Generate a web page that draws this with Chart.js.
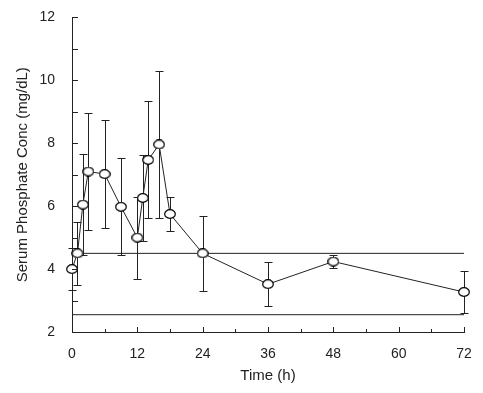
<!DOCTYPE html>
<html>
<head>
<meta charset="utf-8">
<script src="https://cdn.jsdelivr.net/npm/chart.js@4"></script>
<style>
  html, body { margin: 0; padding: 0; background: #fff; }
  #wrap { width: 483px; height: 393px; }
</style>
</head>
<body>
<div id="wrap"><canvas id="phosChart" width="483" height="393"></canvas></div>
<script>
// Serum phosphate over time, mean +/- SD
const times = [0, 1, 2, 3, 6, 9, 12, 13, 14, 16, 18, 24, 36, 48, 72];
const means = [4.0, 4.5, 6.05, 7.1, 7.02, 5.98, 5.0, 6.26, 7.47, 7.96, 5.75, 4.5, 3.52, 4.24, 3.27];
const errs  = [0.68, 1.0, 1.6, 1.85, 1.73, 1.54, 1.3, 1.37, 1.86, 2.35, 0.55, 1.2, 0.69, 0.21, 0.68];
// normal range limits drawn as horizontal lines
const refLevels = [4.5, 2.55];
const xTicks = [0, 12, 24, 36, 48, 60, 72];
const yTicks = [2, 4, 6, 8, 10, 12];

const ink = '#222';
const fontFamily = '"Liberation Sans", Arial, sans-serif';

const points = times.map((t, i) => ({ x: t, y: means[i] }));

// open ellipse marker (a bit wider than tall, like the original)
function makeMarker() {
  const c = document.createElement('canvas');
  c.width = 12; c.height = 10;
  const g = c.getContext('2d');
  g.fillStyle = '#fff';
  g.strokeStyle = '#000';
  g.lineWidth = 1.2;
  g.beginPath();
  g.ellipse(6, 5, 5.3, 4.3, 0, 0, Math.PI * 2);
  g.fill();
  g.stroke();
  return c;
}
const marker = makeMarker();

// error bars + inward tick marks, drawn with the chart's scales
const extrasPlugin = {
  id: 'extras',
  beforeDatasetsDraw(chart) {
    const { ctx, scales: { x, y } } = chart;
    ctx.save();
    ctx.strokeStyle = ink;
    ctx.lineWidth = 1;
    times.forEach((t, i) => {
      const px = Math.round(x.getPixelForValue(t)) + 0.5;
      const top = Math.round(y.getPixelForValue(means[i] + errs[i])) + 0.5;
      const bot = Math.round(y.getPixelForValue(means[i] - errs[i])) + 0.5;
      ctx.beginPath();
      ctx.moveTo(px, top); ctx.lineTo(px, bot);
      ctx.moveTo(px - 4, top); ctx.lineTo(px + 4, top);
      ctx.moveTo(px - 4, bot); ctx.lineTo(px + 4, bot);
      ctx.stroke();
    });
    ctx.restore();
  },
  afterDraw(chart) {
    const { ctx, scales: { x, y } } = chart;
    ctx.save();
    ctx.strokeStyle = ink;
    ctx.lineWidth = 1;
    ctx.beginPath();
    const left = x.left;
    for (let v = y.min; v <= y.max; v += 1) {
      const py = Math.round(y.getPixelForValue(v)) + 0.5;
      ctx.moveTo(left, py); ctx.lineTo(left + 6, py);
    }
    const bottom = y.bottom;
    for (let v = x.min; v <= x.max; v += 6) {
      const px = Math.round(x.getPixelForValue(v)) + 0.5;
      const len = v % 12 === 0 ? 5 : 3;
      ctx.moveTo(px, bottom); ctx.lineTo(px, bottom - len);
    }
    ctx.stroke();
    ctx.restore();
  }
};

const ctx = document.getElementById('phosChart').getContext('2d');
new Chart(ctx, {
  type: 'scatter',
  data: {
    datasets: [
      {
        label: 'Phosphate',
        data: points,
        showLine: true,
        clip: false,
        borderColor: ink,
        borderWidth: 1,
        pointStyle: marker,
        pointRadius: 5,
        pointBackgroundColor: '#fff',
        pointBorderColor: ink,
        pointBorderWidth: 1
      },
      ...refLevels.map(level => ({
        label: 'ref ' + level,
        data: [{ x: xTicks[0], y: level }, { x: xTicks[xTicks.length - 1], y: level }],
        showLine: true,
        borderColor: ink,
        borderWidth: 1,
        pointRadius: 0
      }))
    ]
  },
  options: {
    responsive: false,
    animation: false,
    layout: { padding: { left: 0, right: 19, top: 12, bottom: 0 } },
    plugins: {
      legend: { display: false },
      tooltip: { enabled: false }
    },
    scales: {
      x: {
        type: 'linear',
        min: 0,
        max: 72,
        afterFit: s => { s.height = 61; },
        afterBuildTicks: s => { s.ticks = xTicks.map(v => ({ value: v })); },
        grid: { display: false },
        border: { display: true, color: ink, width: 1 },
        ticks: { color: ink, font: { family: fontFamily, size: 14 }, padding: 6, maxRotation: 0 },
        title: {
          display: true,
          text: 'Time (h)',
          color: ink,
          font: { family: fontFamily, size: 15 },
          padding: { top: 0, bottom: 8 }
        }
      },
      y: {
        min: 2,
        max: 12,
        afterFit: s => { s.width = 72; },
        afterBuildTicks: s => { s.ticks = yTicks.map(v => ({ value: v })); },
        grid: { display: false },
        border: { display: true, color: ink, width: 1 },
        ticks: { color: ink, font: { family: fontFamily, size: 14 }, padding: 9 },
        title: {
          display: true,
          text: 'Serum Phosphate Conc (mg/dL)',
          color: ink,
          font: { family: fontFamily, size: 15 },
          padding: { top: 14, bottom: 0 }
        }
      }
    }
  },
  plugins: [extrasPlugin]
});
</script>
</body>
</html>
